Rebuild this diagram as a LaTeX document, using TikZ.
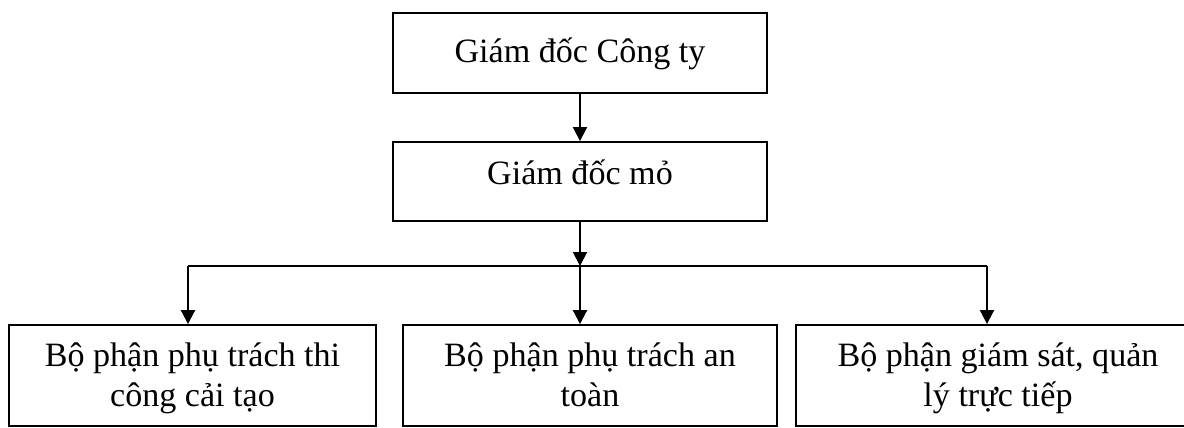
\documentclass[tikz,border=0pt]{standalone}
\usepackage{fontspec}
\setmainfont{Liberation Serif}
\usetikzlibrary{arrows.meta,positioning}
\newcommand{\orgfont}{\fontsize{19.4}{22.2}\selectfont}

\begin{document}
\begin{tikzpicture}[x=0.02cm, y=-0.02cm,
  orgbox/.style={draw, line width=1.1pt, inner sep=0pt, align=center, font=\orgfont,
    text height=0.5cm},
  deptbox/.style={orgbox, minimum height=2.02cm, text height=1.3cm, text depth=0.08cm},
  link/.style={line width=1.1pt, -{Triangle[width=0.28cm, length=0.28cm]}}]
\useasboundingbox (0,0) rectangle (1184,427);

% Top
\node[orgbox, minimum width=7.48cm, minimum height=1.6cm, text depth=0.12cm] (ceo) at (580,53) {Giám đốc Công ty};
\node[orgbox, minimum width=7.48cm, minimum height=1.58cm, text depth=0.4cm] (mine) at (580,181.5) {Giám đốc mỏ};

% Departments
\node[deptbox, minimum width=7.34cm] (thicong) at (192.5,375.5)
  {Bộ phận phụ trách thi\\công cải tạo};
\node[deptbox, minimum width=7.48cm] (antoan) at (590,375.5)
  {Bộ phận phụ trách an\\toàn};
\node[deptbox, minimum width=8.1cm] (giamsat) at (998,375.5)
  {Bộ phận giám sát, quản\\lý trực tiếp};

% Branch line
\coordinate (hub) at (580,266);
\coordinate (jl) at (188,266);
\coordinate (jr) at (987,266);

% Arrows
\draw[link] (ceo) -- (mine);
\draw[link] (mine) -- (hub);
\draw[line width=1.1pt] (jl) -- (jr);
\draw[link] (jl) -- (jl |- thicong.north);
\draw[link] (hub) -- (hub |- antoan.north);
\draw[link] (jr) -- (jr |- giamsat.north);

\end{tikzpicture}
\end{document}
